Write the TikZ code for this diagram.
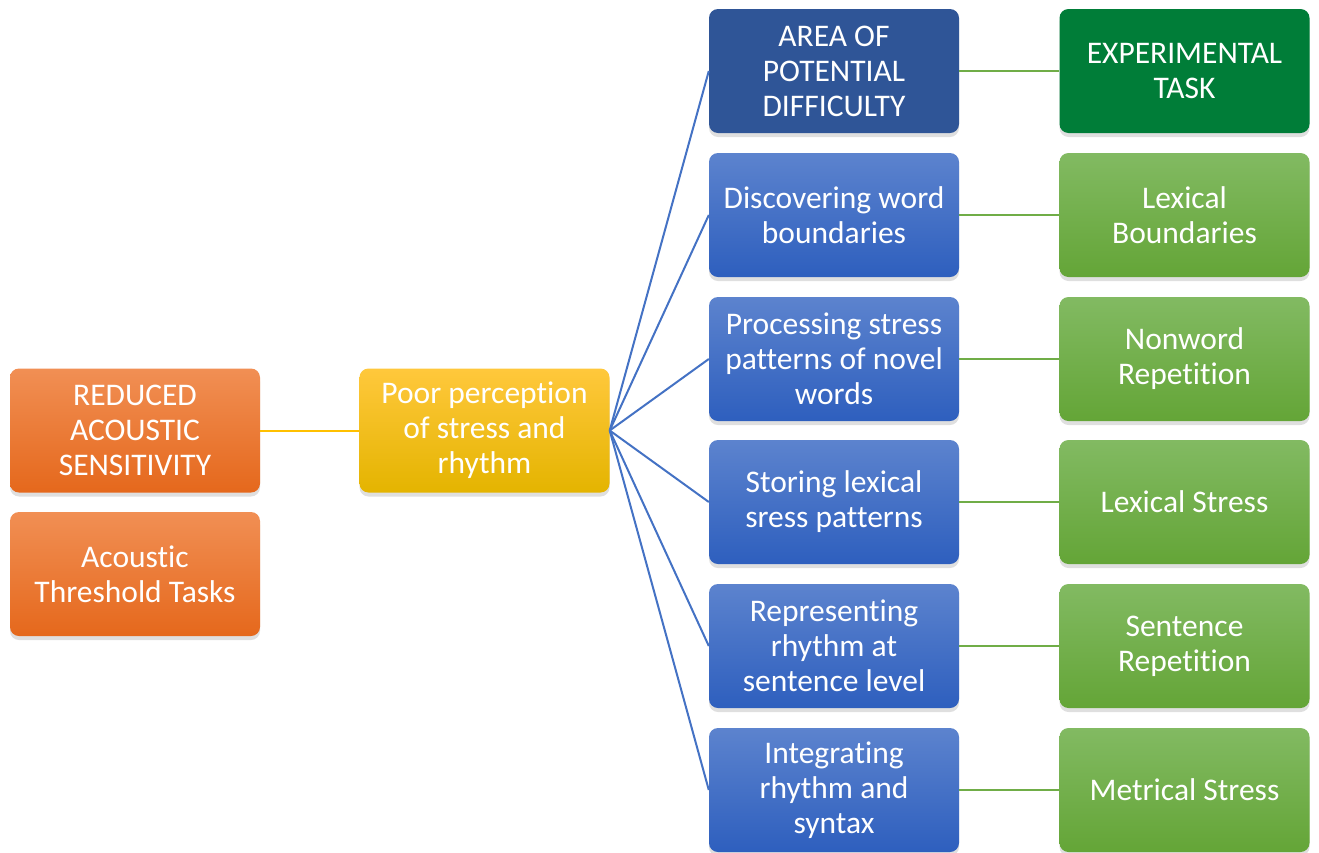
\documentclass[tikz,border=0pt]{standalone}
\usepackage{fontspec}
\setmainfont{Carlito}[Ligatures=NoCommon]
\usetikzlibrary{shadows}
\definecolor{orT}{RGB}{241,143,84}
\definecolor{orB}{RGB}{229,104,28}
\definecolor{ylT}{RGB}{255,200,60}
\definecolor{ylB}{RGB}{228,180,0}
\definecolor{hdBlue}{RGB}{47,85,151}
\definecolor{blT}{RGB}{92,131,206}
\definecolor{blB}{RGB}{46,95,190}
\definecolor{hdGreen}{RGB}{0,125,56}
\definecolor{grT}{RGB}{130,186,98}
\definecolor{grB}{RGB}{100,165,55}
\definecolor{lnYellow}{RGB}{255,192,0}
\definecolor{lnBlue}{RGB}{68,114,196}
\definecolor{lnGreen}{RGB}{112,173,71}
\tikzset{
  box/.style={rounded corners=9pt, minimum width=250pt, minimum height=124pt,
    inner sep=2pt, align=center, text=white,
    font=\fontsize{31.5}{35}\selectfont,
    drop shadow={shadow xshift=0pt, shadow yshift=-4pt, opacity=0.25}},
  orbox/.style={box, top color=orT, bottom color=orB},
  ylbox/.style={box, top color=ylT, bottom color=ylB},
  hdbbox/.style={box, fill=hdBlue},
  blbox/.style={box, top color=blT, bottom color=blB},
  hdgbox/.style={box, fill=hdGreen},
  grbox/.style={box, top color=grT, bottom color=grB},
  ylink/.style={draw=lnYellow, line width=2pt},
  blink/.style={draw=lnBlue, line width=2pt},
  glink/.style={draw=lnGreen, line width=2.2pt}
}
\begin{document}
\begin{tikzpicture}[x=1pt,y=-1pt]
\useasboundingbox (0,0) rectangle (1319,852);
\node[orbox] (ras) at (135,430.5) {REDUCED\\ACOUSTIC\\SENSITIVITY};
\node[orbox] (att) at (135,574) {Acoustic\\Threshold Tasks};
\node[ylbox] (poor) at (484.5,430.5) {Poor perception\\of stress and\\rhythm};
\node[hdbbox] (b0) at (834,71) {AREA OF\\POTENTIAL\\DIFFICULTY};
\node[blbox] (b1) at (834,215) {Discovering word\\boundaries};
\node[blbox] (b2) at (834,359) {Processing stress\\patterns of novel\\words};
\node[blbox] (b3) at (834,502) {Storing lexical\\sress patterns};
\node[blbox] (b4) at (834,646) {Representing\\rhythm at\\sentence level};
\node[blbox] (b5) at (834,790) {Integrating\\rhythm and\\syntax};
\node[hdgbox] (g0) at (1184.5,71) {EXPERIMENTAL\\TASK};
\node[grbox] (g1) at (1184.5,215) {Lexical\\Boundaries};
\node[grbox] (g2) at (1184.5,359) {Nonword\\Repetition};
\node[grbox] (g3) at (1184.5,502) {Lexical Stress};
\node[grbox] (g4) at (1184.5,646) {Sentence\\Repetition};
\node[grbox] (g5) at (1184.5,790) {Metrical Stress};
\draw[ylink] (ras.east) -- (poor.west);
\foreach \i in {0,...,5}{
  \draw[blink] (poor.east) -- (b\i.west);
  \draw[glink] (b\i.east) -- (g\i.west);
}
\end{tikzpicture}
\end{document}
